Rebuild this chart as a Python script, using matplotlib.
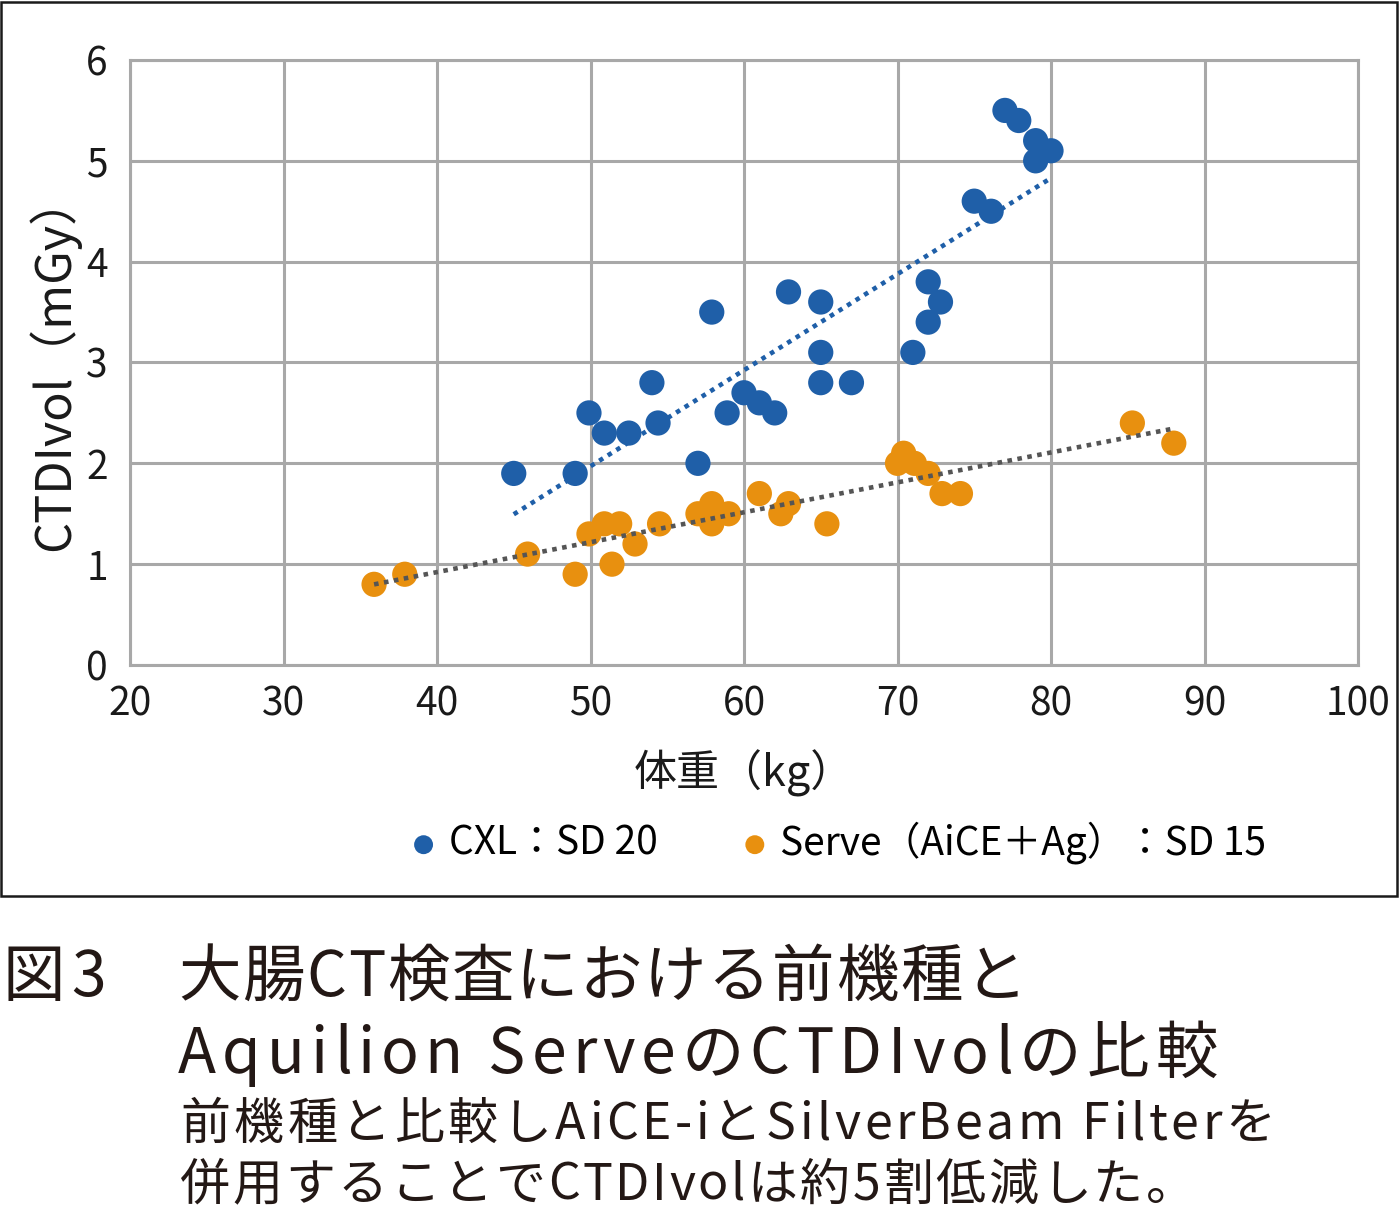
import numpy as np
import matplotlib
matplotlib.use("Agg")
import matplotlib.pyplot as plt
import matplotlib.patches as patches

plt.rcParams['font.family'] = ['Noto Sans CJK JP', 'DejaVu Sans']

# CXL : SD20 (weight kg, CTDIvol mGy)
cxl_weight = [45.0, 49.0, 49.9, 50.9, 52.5, 54.0, 54.4, 57.0, 57.9, 58.9,
              60.0, 61.0, 62.0, 62.9, 65.0, 65.0, 65.0, 67.0, 71.0, 72.0,
              72.0, 72.8, 75.0, 76.1, 77.0, 77.9, 79.0, 79.0, 80.0]
cxl_dose = [1.9, 1.9, 2.5, 2.3, 2.3, 2.8, 2.4, 2.0, 3.5, 2.5,
            2.7, 2.6, 2.5, 3.7, 3.6, 3.1, 2.8, 2.8, 3.1, 3.8,
            3.4, 3.6, 4.6, 4.5, 5.5, 5.4, 5.2, 5.0, 5.1]

# Serve (AiCE + Ag) : SD15
serve_weight = [35.9, 37.9, 45.9, 49.0, 49.9, 50.9, 51.4, 51.9, 52.9, 54.5,
                57.0, 57.9, 57.9, 59.0, 61.0, 62.4, 62.9, 65.4, 70.0, 70.4,
                71.1, 72.0, 72.9, 74.1, 85.3, 88.0]
serve_dose = [0.8, 0.9, 1.1, 0.9, 1.3, 1.4, 1.0, 1.4, 1.2, 1.4,
              1.5, 1.6, 1.4, 1.5, 1.7, 1.5, 1.6, 1.4, 2.0, 2.1,
              2.0, 1.9, 1.7, 1.7, 2.4, 2.2]

x_ticks = [20, 30, 40, 50, 60, 70, 80, 90, 100]
y_ticks = [0, 1, 2, 3, 4, 5, 6]

blue = '#1f5fa8'
orange = '#e8900f'
grid_gray = '#a8a8a8'
W, H = 1400, 1215

fig = plt.figure(figsize=(14, 12.15), dpi=100)
ax = fig.add_axes([130 / W, 1 - 665 / H, 1228 / W, 605 / H])

# scatter points
ax.scatter(cxl_weight, cxl_dose, s=330, color=blue, edgecolors='none', zorder=3,
           label='CXL：SD 20')
ax.scatter(serve_weight, serve_dose, s=330, color=orange, edgecolors='none', zorder=3,
           label='Serve（AiCE＋Ag）：SD 15')

# linear trend lines (dotted)
for xs, ys, c in [(cxl_weight, cxl_dose, blue), (serve_weight, serve_dose, '#555555')]:
    k, b = np.polyfit(xs, ys, 1)
    xx = np.array([min(xs), max(xs)])
    ax.plot(xx, k * xx + b, color=c, linewidth=3.3, linestyle=(0, (1, 1.2)), zorder=4)

ax.set_xlim(20, 100)
ax.set_ylim(0, 6)
ax.set_xticks(x_ticks)
ax.set_yticks(y_ticks)
ax.grid(True, color=grid_gray, linewidth=2.2)
ax.set_axisbelow(True)
for sp in ax.spines.values():
    sp.set_color(grid_gray)
    sp.set_linewidth(2.2)
ax.tick_params(length=0, labelsize=28, colors='#1a1a1a')
ax.tick_params(axis='x', pad=14)
ax.tick_params(axis='y', pad=16)

ax.set_ylabel('CTDIvol（mGy）', fontsize=35, labelpad=4, color='#1a1a1a')
ax.set_xlabel('体重（kg）', fontsize=31, labelpad=18, color='#1a1a1a')

ax.legend(loc='center', bbox_to_anchor=(839 / W, 1 - 843 / H),
          bbox_transform=fig.transFigure, ncol=2, frameon=False,
          fontsize=28, markerscale=0.75, handlelength=0.6, handletextpad=0.35,
          columnspacing=2.2)

# outer border of chart panel
fig.patches.append(patches.Rectangle((1 / W, 1 - 896 / H), 1396 / W, 894 / H,
                                     transform=fig.transFigure, fill=False,
                                     edgecolor='#1a1a1a', linewidth=1.8))

# caption, drawn char by char so the letter spacing matches the original
cap = '#231815'
renderer = fig.canvas.get_renderer()


def tracked(x0, x1, y, s, size):
    widths = []
    for ch in s:
        if ch == ' ':
            widths.append(size * 0.3)
            continue
        t = fig.text(0, 0, ch, fontsize=size)
        widths.append(t.get_window_extent(renderer).width)
        t.remove()
    gap = (x1 - x0 - sum(widths)) / (len(s) - 1)
    x = x0
    for ch, w in zip(s, widths):
        if ch != ' ':
            fig.text(x / W, 1 - y / H, ch, fontsize=size, va='center', ha='left', color=cap)
        x += w + gap


tracked(3, 106, 978, '図3', 45)
tracked(178, 1027, 978, '大腸CT検査における前機種と', 45)
tracked(178, 1218, 1055, 'Aquilion ServeのCTDIvolの比較', 45)
tracked(180, 1275, 1125, '前機種と比較しAiCE-iとSilverBeam Filterを', 36)
tracked(180, 1196, 1186, '併用することでCTDIvolは約5割低減した。', 36)

fig.savefig('out.png', dpi=100)
